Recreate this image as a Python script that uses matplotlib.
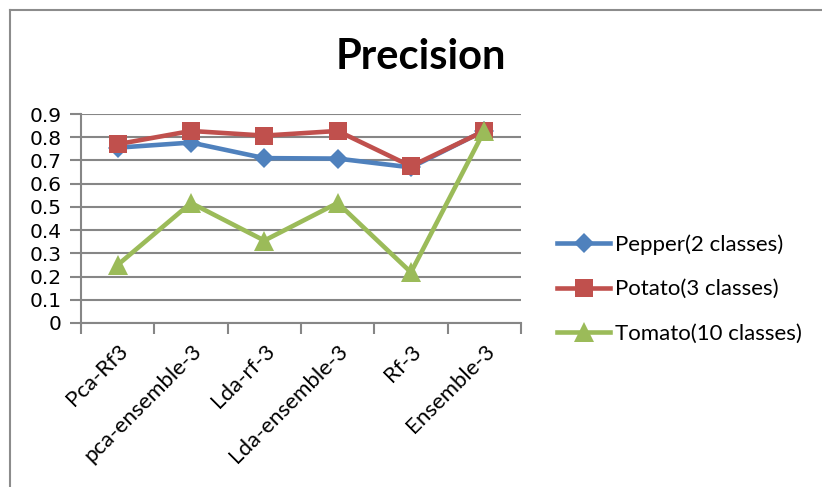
import matplotlib
matplotlib.use("Agg")
import matplotlib.pyplot as plt
from matplotlib.lines import Line2D
import numpy as np

categories = ["Pca-Rf3", "pca-ensemble-3", "Lda-rf-3", "Lda-ensemble-3", "Rf-3", "Ensemble-3"]
pepper = [0.755, 0.777, 0.71, 0.708, 0.67, 0.828]
potato = [0.77, 0.827, 0.807, 0.827, 0.675, 0.827]
tomato = [0.25, 0.517, 0.355, 0.517, 0.218, 0.828]
series_names = ["Pepper(2 classes)", "Potato(3 classes)", "Tomato(10 classes)"]
y_ticks = [0, 0.1, 0.2, 0.3, 0.4, 0.5, 0.6, 0.7, 0.8, 0.9]

W, H = 822, 487
fig = plt.figure(figsize=(W / 100, H / 100), dpi=100)
ax = fig.add_axes([81 / W, 1 - 323 / H, (521 - 81) / W, (323 - 114) / H])

grid_col = "#868686"
x = np.arange(len(categories))

styles = [
    dict(color="#4F81BD", marker="D", markersize=10),
    dict(color="#C0504D", marker="s", markersize=13),
    dict(color="#9BBB59", marker="^", markersize=14),
]
for vals, st in zip([pepper, potato, tomato], styles):
    ax.plot(x, vals, lw=3.3, solid_capstyle="round", solid_joinstyle="round",
            markeredgewidth=0, zorder=3, **st)

ax.set_xlim(-0.5, len(categories) - 0.5)
ax.set_ylim(0, 0.9)
ax.set_yticks(y_ticks)
ax.set_yticklabels([f"{v:g}" for v in y_ticks], fontsize=14.5, family="DejaVu Sans")
ax.yaxis.grid(True, color=grid_col, lw=1.5)
ax.set_axisbelow(True)

ax.set_xticks(x)
ax.set_xticklabels(categories, rotation=45, ha="right", rotation_mode="anchor",
                   fontsize=16, family="Lato")
ax.set_xticks(np.arange(-0.5, len(categories), 1.0), minor=True)
ax.tick_params(axis="x", which="major", length=0, pad=13)
ax.tick_params(axis="x", which="minor", length=8, width=1.5, color=grid_col)
ax.tick_params(axis="y", length=8, width=1.5, color=grid_col, pad=6)

for side in ["top", "right"]:
    ax.spines[side].set_visible(False)
for side in ["left", "bottom"]:
    ax.spines[side].set_color(grid_col)
    ax.spines[side].set_linewidth(1.5)

fig.text(421 / W, 1 - 57 / H, "Precision", ha="center", va="center",
         fontsize=30, fontweight="bold", family="Lato")

handles = [Line2D([], [], lw=3.3, **st) for st in styles]
for h in handles:
    h.set_markeredgewidth(0)
fig.legend(handles, series_names, loc="center left",
           bbox_to_anchor=(557 / W, 1 - 289 / H), frameon=False,
           prop={"family": "Lato", "size": 16}, handlelength=2.4,
           handletextpad=0.2, labelspacing=1.1, borderaxespad=0, borderpad=0)

# chart frame (top and left edges)
fig.add_artist(Line2D([10 / W, 1], [1 - 10 / H, 1 - 10 / H], color="#8c8c8c", lw=1.5,
                      transform=fig.transFigure))
fig.add_artist(Line2D([10 / W, 10 / W], [0, 1 - 10 / H], color="#8c8c8c", lw=1.5,
                      transform=fig.transFigure))

fig.savefig("out.png", dpi=100)
